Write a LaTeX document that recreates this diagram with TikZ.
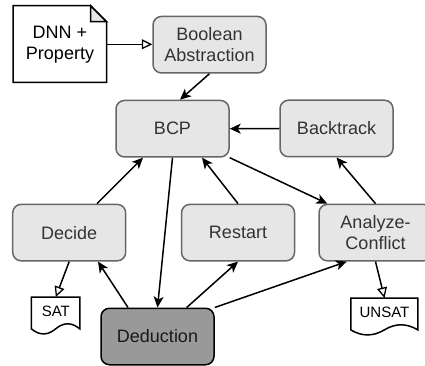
\documentclass[tikz,border=0pt]{standalone}
\usepackage{fontspec}
\setmainfont{Liberation Sans}
\usetikzlibrary{arrows.meta,calc}
\definecolor{boxfill}{HTML}{E6E6E6}
\definecolor{boxline}{HTML}{666666}
\definecolor{boxtext}{HTML}{333333}
\definecolor{dedfill}{HTML}{999999}
\begin{document}
\begin{tikzpicture}[x=1pt,y=-1pt,
  proc/.style={rectangle, rounded corners=8.5pt, draw=boxline, fill=boxfill, line width=1.5pt,
    minimum width=113pt, minimum height=56.5pt, inner sep=0pt, align=center, text=boxtext,
    font=\fontsize{18}{21}\selectfont},
  ded/.style={proc, fill=dedfill, draw=black, text=black!90},
  plain/.style={rectangle, draw=none, inner sep=0pt, align=center, text=black},
  docline/.style={draw=black, fill=white, line width=1.5pt, line join=miter},
  flow/.style={line width=1.5pt, -{Stealth[length=11pt,width=10pt,inset=3pt]}},
  outflow/.style={line width=1.5pt, -{Triangle[length=10.5pt,width=10pt,fill=white,line width=1.3pt]}}
]
\useasboundingbox (0,0) rectangle (425,366);

% document shapes (nodes hold the text)
\node[plain, minimum width=93.4pt, minimum height=76.7pt, font=\fontsize{18}{21}\selectfont] (dnn) at (60,44.3) {};
\begin{scope}[shift={(dnn.north west)}]
  \draw[docline] (0,0) -- (77.4,0) -- (93.4,16) -- (93.4,76.7) -- (0,76.7) -- cycle;
  \draw[docline, fill=boxfill] (77.4,0) -- (77.4,16) -- (93.4,16) -- cycle;
\end{scope}
\node[plain, font=\fontsize{18}{21}\selectfont] at (dnn.center) {DNN +\\Property};

\node[plain, minimum width=48.3pt, minimum height=28pt, anchor=north] (sat) at (55.8,297) {};
\begin{scope}[shift={(sat.north west)}]
  \draw[docline] (0,0) -- (48.3,0) -- (48.3,31.9) .. controls (40.25,25.1) and (32.2,25.1) .. (24.15,31.9)
     .. controls (16.1,38.6) and (8.05,38.6) .. (0,31.9) -- cycle;
\end{scope}
\node[plain, font=\fontsize{15}{18}\selectfont] at (sat.center) {SAT};

\node[plain, minimum width=67pt, minimum height=28pt, anchor=north] (unsat) at (384.5,298) {};
\begin{scope}[shift={(unsat.north west)}]
  \draw[docline] (0,0) -- (67,0) -- (67,31.9) .. controls (55.8,25.1) and (44.7,25.1) .. (33.5,31.9)
     .. controls (22.3,38.6) and (11.2,38.6) .. (0,31.9) -- cycle;
\end{scope}
\node[plain, font=\fontsize{15}{18}\selectfont] at (unsat.center) {UNSAT};

% process boxes
\node[proc] (bool) at (209.5,44.7) {Boolean\\Abstraction};
\node[proc] (bcp) at (172.5,128.7) {BCP};
\node[proc] (back) at (336.5,128.5) {Backtrack};
\node[proc] (decide) at (69.2,232.6) {Decide};
\node[proc] (restart) at (238,232.6) {Restart};
\node[proc] (analyze) at (375.5,232.6) {Analyze-\\Conflict};
\node[ded] (deduct) at (157.5,336.5) {Deduction};

% connectors
\draw[outflow] (dnn.east) -- (dnn.east -| bool.west);
\draw[flow] (bool.south) -- ([xshift=-29.5pt]bool.south |- bcp.north);
\draw[flow] (back.west) -- (bcp.east);
\draw[flow] ([xshift=27.8pt]decide.north) -- ([xshift=-29.5pt]bcp.south);
\draw[flow] (bcp.south) -- (deduct.north);
\draw[flow] (restart.north) -- ([xshift=29.5pt]bcp.south);
\draw[flow] ([xshift=-29.5pt]deduct.north) -- ([xshift=28.8pt]decide.south);
\draw[flow] ([xshift=29.2pt]deduct.north) -- (restart.south);
\draw[flow] (deduct.north east) -- ([xshift=-28.8pt]analyze.south);
\draw[flow] (bcp.south east) -- ([xshift=9pt]analyze.north west);
\draw[flow] (analyze.north) -- (back.south);
\draw[outflow] (decide.south) -- (sat.north);
\draw[outflow] (analyze.south) -- (unsat.north);
\end{tikzpicture}
\end{document}
